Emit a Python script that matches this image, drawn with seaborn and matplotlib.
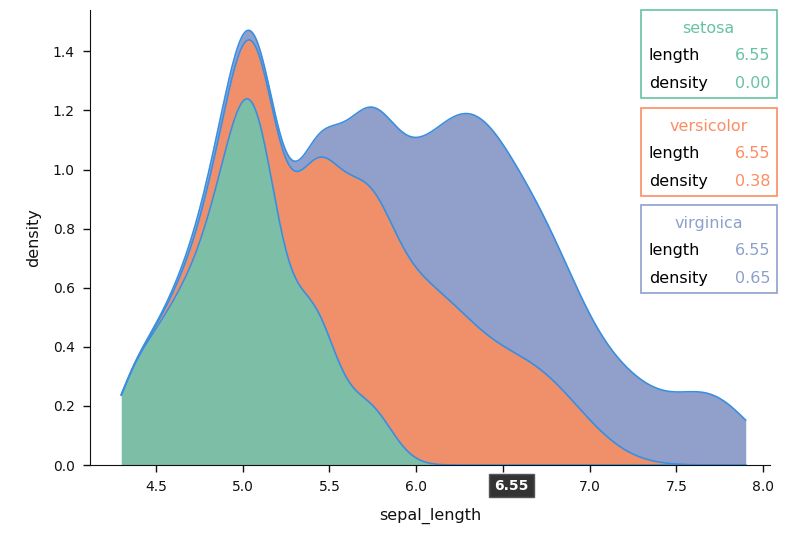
import numpy as np
import pandas as pd
import matplotlib
matplotlib.use("Agg")
import matplotlib.pyplot as plt
from matplotlib.patches import Rectangle
import seaborn as sns

# iris sepal lengths per species
setosa = [5.1, 4.9, 4.7, 4.6, 5.0, 5.4, 4.6, 5.0, 4.4, 4.9, 5.4, 4.8, 4.8, 4.3, 5.8, 5.7, 5.4,
          5.1, 5.7, 5.1, 5.4, 5.1, 4.6, 5.1, 4.8, 5.0, 5.0, 5.2, 5.2, 4.7, 4.8, 5.4, 5.2, 5.5,
          4.9, 5.0, 5.5, 4.9, 4.4, 5.1, 5.0, 4.5, 4.4, 5.0, 5.1, 4.8, 5.1, 4.6, 5.3, 5.0]
versicolor = [7.0, 6.4, 6.9, 5.5, 6.5, 5.7, 6.3, 4.9, 6.6, 5.2, 5.0, 5.9, 6.0, 6.1, 5.6, 6.7, 5.6,
              5.8, 6.2, 5.6, 5.9, 6.1, 6.3, 6.1, 6.4, 6.6, 6.8, 6.7, 6.0, 5.7, 5.5, 5.5, 5.8, 6.0,
              5.4, 6.0, 6.7, 6.3, 5.6, 5.5, 5.5, 6.1, 5.8, 5.0, 5.6, 5.7, 5.7, 6.2, 5.1, 5.7]
virginica = [6.3, 5.8, 7.1, 6.3, 6.5, 7.6, 4.9, 7.3, 6.7, 7.2, 6.5, 6.4, 6.8, 5.7, 5.8, 6.4, 6.5,
             7.7, 7.7, 6.0, 6.9, 5.6, 7.7, 6.3, 6.7, 7.2, 6.2, 6.1, 6.4, 7.2, 7.4, 7.9, 6.4, 6.3,
             6.1, 7.7, 6.3, 6.4, 6.0, 6.9, 6.7, 6.9, 5.8, 6.8, 6.7, 6.7, 6.3, 6.5, 6.2, 5.9]

species = ["setosa", "versicolor", "virginica"]
colors = {"setosa": "#7cbfa6", "versicolor": "#ef906a", "virginica": "#919fcb"}
text_colors = {"setosa": "#66c2a5", "versicolor": "#fc8d62", "virginica": "#8da0cb"}
x_ticks = [4.5, 5.0, 5.5, 6.0, 6.5, 7.0, 7.5, 8.0]
y_ticks = [0.0, 0.2, 0.4, 0.6, 0.8, 1.0, 1.2, 1.4]
hover_x = 6.55
hover_density = {"setosa": "0.00", "versicolor": "0.38", "virginica": "0.65"}
line_color = "#3a8ee0"

df = pd.DataFrame({
    "sepal_length": setosa + versicolor + virginica,
    "species": ["setosa"] * len(setosa) + ["versicolor"] * len(versicolor)
               + ["virginica"] * len(virginica),
})


def rule_of_thumb_bw(kde):
    # 0.9 * min(sd, iqr/1.34) * n^-0.2, returned as a factor of sd
    x = kde.dataset[0]
    sd = np.std(x, ddof=1)
    q1, q3 = np.percentile(x, [25, 75])
    h = min(sd, (q3 - q1) / 1.34) or sd
    return 0.9 * h * len(x) ** -0.2 / sd


sns.set_style("ticks")
plt.rcParams["font.family"] = ["DejaVu Sans"]
plt.rcParams["text.color"] = "black"

fig = plt.figure(figsize=(8, 5.42), dpi=100)
ax = fig.add_axes([0.1125, 0.142, 0.85, 0.8395])

order = species[::-1]
kde_kws = dict(data=df, x="sepal_length", hue="species", hue_order=order,
               multiple="stack", common_norm=False, cut=0,
               bw_method=rule_of_thumb_bw, gridsize=400, legend=False, ax=ax)
sns.kdeplot(fill=True, alpha=1, linewidth=0, palette=colors, **kde_kws)
sns.kdeplot(fill=False, linewidth=1.2,
            palette={s: line_color for s in species}, **kde_kws)

ax.set_xlim(4.12, 8.04)
ax.set_ylim(0, 1.54)
ax.set_xticks(x_ticks)
# the hover badge covers the 6.5 label
ax.set_xticklabels(["" if abs(t - hover_x) < 0.1 else f"{t:.1f}" for t in x_ticks])
ax.set_yticks(y_ticks)
ax.set_yticklabels([f"{t:.1f}" for t in y_ticks])
ax.tick_params(labelsize=10, length=5, width=1, colors="#111111", pad=6)
ax.set_xlabel("sepal_length", fontsize=11.5, labelpad=10, color="#111111")
ax.set_ylabel("density", fontsize=11.5, labelpad=8, color="#111111")
sns.despine(ax=ax)
for side in ["left", "bottom"]:
    ax.spines[side].set_color("#111111")

# hover marker on the x axis
ax.text(hover_x, -0.045, f"{hover_x:.2f}", transform=ax.get_xaxis_transform(),
        ha="center", va="center", fontsize=10, fontweight="bold", color="white",
        bbox=dict(boxstyle="square,pad=0.35", fc="#333333", ec="#555555"))

# tooltip boxes
box_top = [0.981, 0.800, 0.621]
for sp, top in zip(species, box_top):
    fig.patches.append(Rectangle((0.801, top - 0.162), 0.170, 0.162,
                                 transform=fig.transFigure, fill=False,
                                 ec=text_colors[sp], lw=1.2))
    fig.text(0.886, top - 0.033, sp, ha="center", va="center",
             fontsize=11.5, color=text_colors[sp])
    fig.text(0.811, top - 0.084, "length", ha="left", va="center", fontsize=11.5)
    fig.text(0.963, top - 0.084, f"{hover_x:.2f}", ha="right", va="center",
             fontsize=11.5, color=text_colors[sp])
    fig.text(0.811, top - 0.135, "density", ha="left", va="center", fontsize=11.5)
    fig.text(0.963, top - 0.135, hover_density[sp], ha="right", va="center",
             fontsize=11.5, color=text_colors[sp])

fig.savefig("out.png", dpi=100)
